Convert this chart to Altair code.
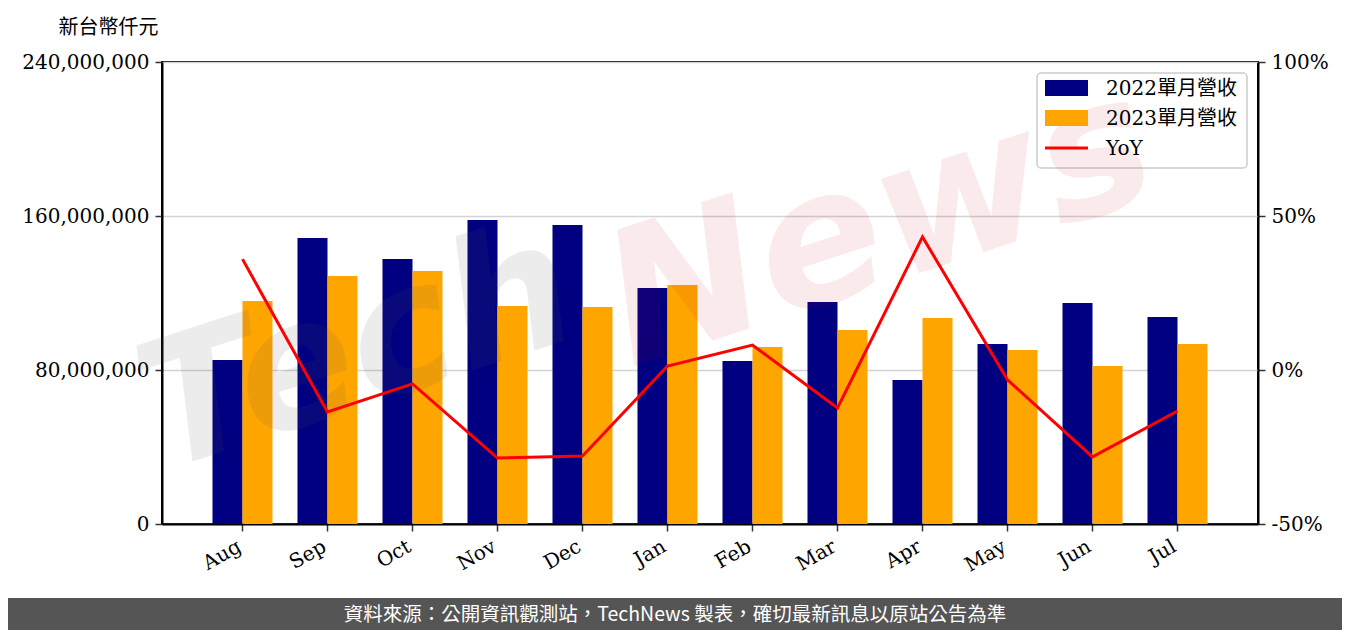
import altair as alt
import pandas as pd

# ---- data ----
months = ["Aug", "Sep", "Oct", "Nov", "Dec", "Jan", "Feb", "Mar", "Apr", "May", "Jun", "Jul"]
rev_2022_m = [85.2, 148.6, 137.7, 157.9, 155.3, 122.6, 84.7, 115.3, 74.8, 93.5, 114.8, 107.5]
rev_2023_m = [115.8, 128.8, 131.4, 113.2, 112.7, 124.2, 91.9, 100.8, 107.0, 90.4, 82.1, 93.5]
yoy_pct = [36.0, -13.6, -4.5, -28.6, -27.9, 1.3, 8.1, -12.3, 43.2, -3.2, -28.2, -13.3]
series = ["2022單月營收", "2023單月營收", "YoY"]
colors = ["#000080", "#FFA500", "#FF0000"]
left_ticks = [0, 80000000, 160000000, 240000000]
right_ticks = [-50, 0, 50, 100]
y_title = "新台幣仟元"
footer = "資料來源：公開資訊觀測站，TechNews 製表，確切最新訊息以原站公告為準"

FONT = "DejaVu Serif, Noto Sans CJK TC, serif"
W, H = 1096, 462
PAD = {"left": 154, "top": 54, "right": 84, "bottom": 106}

bars_df = pd.DataFrame({
    "month": months * 2,
    "series": [series[0]] * 12 + [series[1]] * 12,
    "value": [v * 1e6 for v in rev_2022_m + rev_2023_m],
})
line_df = pd.DataFrame({"month": months, "yoy": yoy_pct})
legend_df = pd.DataFrame({"label": series, "col": colors, "i": [0, 1, 2]})

xscale = alt.Scale(type="band", domain=months, paddingInner=0.294, paddingOuter=0.594)
xaxis = alt.Axis(labelAngle=330, labelAlign="right", labelBaseline="top",
                 labelPadding=5, labelOffset=-8, grid=False, title=None)

bars = alt.Chart(bars_df).mark_bar().encode(
    x=alt.X("month:N", scale=xscale, sort=months, axis=xaxis),
    xOffset=alt.XOffset("series:N", scale=alt.Scale(domain=series[:2], paddingInner=0, paddingOuter=0)),
    y=alt.Y("value:Q", scale=alt.Scale(domain=[0, 240000000], nice=False, zero=True),
            axis=alt.Axis(values=left_ticks, format=",d", title=y_title, titleAngle=0,
                          titleAlign="left", titleBaseline="middle", titleX=-104, titleY=-35,
                          titleFont=FONT, titleFontSize=20, titleFontWeight="normal",
                          titleColor="black", grid=True)),
    color=alt.Color("series:N", scale=alt.Scale(domain=series[:2], range=colors[:2]), legend=None),
)

line = alt.Chart(line_df).mark_line(color=colors[2], strokeWidth=3).encode(
    x=alt.X("month:N", scale=xscale, sort=months, axis=xaxis),
    y=alt.Y("yoy:Q", scale=alt.Scale(domain=[-50, 100], nice=False, zero=False),
            axis=alt.Axis(orient="right", values=right_ticks, labelExpr="datum.value + '%'",
                          title=None, grid=False)),
)

# legend box
leg_box = alt.Chart(legend_df).transform_filter("datum.i == 0").mark_rect(
    fill="white", fillOpacity=0.85, stroke="#cccccc", strokeWidth=1.5, cornerRadius=4
).encode(x=alt.value(875), x2=alt.value(1085), y=alt.value(11), y2=alt.value(106))

leg_sw = alt.Chart(legend_df).transform_filter("datum.i < 2").transform_calculate(
    y0="18 + 30*datum.i", y1="34 + 30*datum.i"
).mark_rect().encode(
    x=alt.value(883), x2=alt.value(926),
    y=alt.Y("y0:Q", scale=None), y2=alt.Y2("y1:Q"),
    color=alt.Color("col:N", scale=None),
)
leg_line = alt.Chart(legend_df).transform_filter("datum.i == 2").mark_rule(
    color=colors[2], strokeWidth=3
).encode(x=alt.value(883), x2=alt.value(926), y=alt.value(86))
leg_txt = alt.Chart(legend_df).transform_calculate(yy="27 + 30*datum.i").mark_text(
    align="left", baseline="middle", font=FONT, fontSize=20, color="black"
).encode(x=alt.value(944), y=alt.Y("yy:Q", scale=None), text="label:N")

# watermark
wm_tech = alt.Chart(legend_df).transform_filter("datum.i == 0").mark_text(
    text="Tech", font="DejaVu Sans", fontWeight="bold", fontStyle="italic", fontSize=175,
    angle=342, align="center", baseline="middle", color="#585858", opacity=0.11
).encode(x=alt.value(196), y=alt.value(290))
wm_news = alt.Chart(legend_df).transform_filter("datum.i == 0").mark_text(
    text="News", font="DejaVu Sans", fontWeight="bold", fontStyle="italic", fontSize=185,
    angle=342, align="center", baseline="middle", color="#c80a1e", opacity=0.08
).encode(x=alt.value(718), y=alt.value(165))

# footer banner
banner = alt.Chart(legend_df).transform_filter("datum.i == 0").mark_rect(color="#555555").encode(
    x=alt.value(-154), x2=alt.value(1180), y=alt.value(536), y2=alt.value(568)
)
banner_txt = alt.Chart(legend_df).transform_filter("datum.i == 0").mark_text(
    text=footer, font="Noto Sans CJK TC", fontSize=19.5, color="white",
    align="center", baseline="middle"
).encode(x=alt.value(513), y=alt.value(553))

chart = alt.layer(
    bars, leg_box, wm_tech, wm_news, line, leg_sw, leg_line, leg_txt, banner, banner_txt
).resolve_scale(y="independent").properties(
    width=W, height=H,
    autosize=alt.AutoSizeParams(type="none"),
    padding=PAD,
    background="white",
).configure_view(
    stroke="black", strokeWidth=2
).configure_axis(
    domainColor="black", domainWidth=2,
    tickColor="#333333", tickWidth=1.5, tickSize=7,
    labelFont=FONT, labelFontSize=20, labelColor="black", labelPadding=6,
    gridColor="#d3d3d3", gridWidth=1.5,
)

chart.save("out.html", embed_options={"renderer": "svg", "actions": False})
